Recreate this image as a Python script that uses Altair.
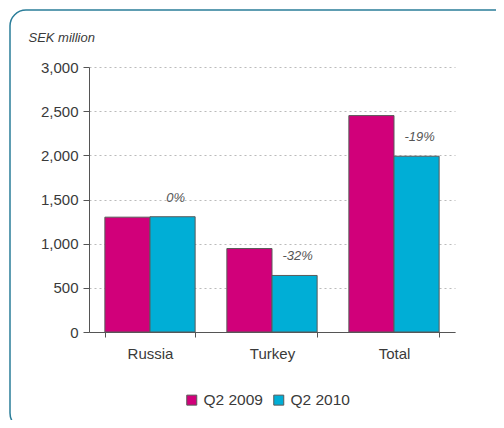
import altair as alt
import pandas as pd

regions = ["Russia", "Turkey", "Total"]
q2_2009 = [1300, 945, 2450]
q2_2010 = [1305, 640, 1990]
changes = ["0%", "-32%", "-19%"]
series = ["Q2 2009", "Q2 2010"]
colors = ["#D1007A", "#00AED6"]

rows = []
for r, a, b in zip(regions, q2_2009, q2_2010):
    rows.append({"region": r, "series": series[0], "value": a})
    rows.append({"region": r, "series": series[1], "value": b})
df = pd.DataFrame(rows)
lab = pd.DataFrame({"region": regions, "series": [series[1]] * 3,
                    "value": q2_2010, "label": changes})

FONT = "Liberation Sans"
TXT = "#3a3a3a"

xenc = alt.X("region:N", sort=regions, title=None,
             scale=alt.Scale(paddingInner=0.26, paddingOuter=0.13),
             axis=alt.Axis(labelAngle=0, tickBand="extent", labelFontSize=15,
                           labelColor=TXT, labelFont=FONT,
                           labelPadding=9, tickSize=5, domainColor="#555555",
                           tickColor="#555555", grid=False))

frame = alt.Chart(pd.DataFrame({"a": [0]})).mark_rect(
    fillOpacity=0, fill="white", stroke="#2A7D99", strokeWidth=1.5, cornerRadius=16
).encode(x=alt.value(-79), x2=alt.value(423), y=alt.value(-57), y2=alt.value(362))

bars = alt.Chart(df).mark_bar(stroke="#5a5a5a", strokeWidth=1).encode(
    x=xenc,
    xOffset=alt.XOffset("series:N", sort=series),
    y=alt.Y("value:Q", scale=alt.Scale(domain=[0, 3000]),
            axis=alt.Axis(values=[0, 500, 1000, 1500, 2000, 2500, 3000],
                          format=",.0f", labelFontSize=15, labelColor=TXT,
                          labelFont=FONT, tickSize=6, labelPadding=5,
                          domainColor="#555555", tickColor="#555555",
                          gridColor="#bbbbbb", gridDash=[2, 3],
                          title="SEK million", titleAngle=0, titleX=-61, titleY=-26,
                          titleAlign="left", titleBaseline="alphabetic",
                          titleFont=FONT, titleFontSize=13,
                          titleFontStyle="italic", titleFontWeight="normal",
                          titleColor=TXT)),
    color=alt.Color("series:N", sort=series,
                    scale=alt.Scale(domain=series, range=colors),
                    legend=alt.Legend(title=None, orient="none", direction="horizontal",
                                      legendX=95, legendY=325, symbolType="square",
                                      symbolSize=100, symbolStrokeColor="#5a5a5a",
                                      symbolStrokeWidth=1, labelFontSize=15.5,
                                      labelFont=FONT, labelColor=TXT,
                                      columnPadding=8, labelOffset=4)),
)

text = alt.Chart(lab).mark_text(
    fontStyle="italic", fontSize=13, color="#555555", font=FONT,
    dy=-19, dx=3, baseline="middle"
).encode(
    x=alt.X("region:N", sort=regions),
    xOffset=alt.XOffset("series:N", sort=series),
    y="value:Q",
    text="label:N",
)

chart = alt.layer(frame, bars, text).properties(
    width=366, height=265,
    padding={"left": 81, "top": 59, "right": 41, "bottom": 88},
    autosize=alt.AutoSizeParams(type="none"),
).configure_view(stroke=None)

chart.save("out.html", embed_options={"renderer": "svg", "actions": False})
